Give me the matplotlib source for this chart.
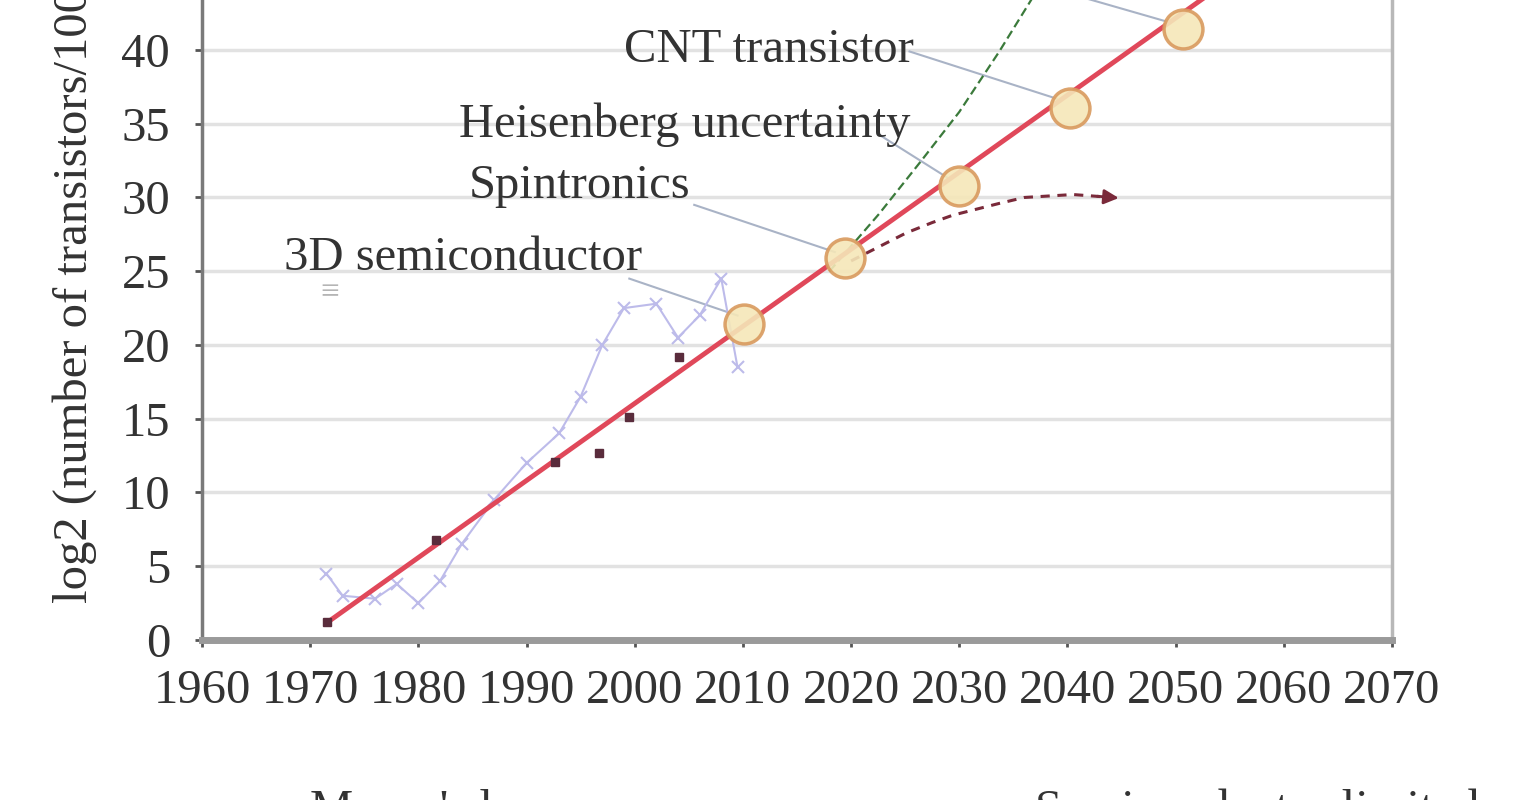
import matplotlib
matplotlib.use("Agg")
import matplotlib.pyplot as plt

plt.rcParams['font.family'] = ['Liberation Serif', 'DejaVu Serif']

# Moore's law trend (log2 of transistor count / 1000)
moore_years = [1971.6, 2056.0]
moore_vals = [1.2, 45.3]

# milestone circles on the trend
milestone_years = [2010.1, 2019.4, 2030.0, 2040.2, 2050.7]
milestone_vals = [21.4, 25.9, 30.8, 36.1, 41.4]

# historic data points (dark markers)
hist_years = [1971.6, 1981.6, 1992.6, 1996.7, 1999.5, 2004.1]
hist_vals = [1.2, 6.8, 12.1, 12.7, 15.1, 19.2]

# light blue series
blue_years = [1971.5, 1973, 1976, 1978, 1980, 1982, 1984, 1987, 1990, 1993,
              1995, 1997, 1999, 2002, 2004, 2006, 2008, 2009.5]
blue_vals = [4.5, 3.0, 2.8, 3.8, 2.5, 4.0, 6.5, 9.5, 12.0, 14.0,
             16.5, 20.0, 22.5, 22.8, 20.5, 22.0, 24.5, 18.5]

# accelerated (green dashed) projection
green_years = [2018.0, 2022.6, 2026.5, 2030.0, 2033.7, 2038.0]
green_vals = [25.0, 28.9, 32.5, 35.8, 39.9, 45.0]

# semiconductor limited (dark red dashed)
limit_years = [2020.0, 2025.1, 2027.5, 2029.4, 2033.7, 2036.0, 2040.5, 2044.2]
limit_vals = [25.7, 27.6, 28.3, 28.8, 29.6, 30.0, 30.2, 30.0]

# annotations: label, text position, leader start, leader end
labels = ["CNT transistor", "Heisenberg uncertainty", "Spintronics", "3D semiconductor"]
label_pos = [(1999.0, 40.0), (1983.8, 34.9), (1984.7, 30.8), (1967.6, 25.9)]
leader_start = [(2025.4, 39.9), (2022.5, 34.3), (2005.5, 29.5), (1999.5, 24.5)]
leader_end = [(2039.0, 36.7), (2029.0, 31.3), (2018.5, 26.3), (2009.5, 22.0)]

FS = 35

fig = plt.figure(figsize=(15.28, 8), dpi=100)
ax = fig.add_axes([0.1322, 0.2, 0.7788, 0.9219])

ax.set_xlim(1960, 2070)
ax.set_ylim(0, 50)
ax.set_xticks(range(1960, 2071, 10))
ax.set_yticks(range(0, 41, 5))
ax.tick_params(labelsize=FS, length=5, width=2, color='#555555')
ax.tick_params(axis='x', pad=16)
ax.tick_params(axis='y', pad=18)
for lbl in ax.get_xticklabels() + ax.get_yticklabels():
    lbl.set_color('#333333')

ax.yaxis.grid(True, color='#e2e2e2', lw=2.5)
ax.set_axisbelow(True)
ax.spines['top'].set_visible(False)
ax.spines['left'].set_color('#7a7a7a')
ax.spines['left'].set_linewidth(2.5)
ax.spines['bottom'].set_color('#9a9a9a')
ax.spines['bottom'].set_linewidth(5)
ax.spines['right'].set_color('#b8b8b8')
ax.spines['right'].set_linewidth(2.5)

# leader lines
for (x0, y0), (x1, y1) in zip(leader_start, leader_end):
    ax.plot([x0, x1], [y0, y1], color='#a9b3c6', lw=1.5, zorder=2)
ax.plot([2036.5, 2049.3], [44.6, 41.9], color='#a9b3c6', lw=1.5, zorder=2)

ax.plot(blue_years, blue_vals, color='#bdbbea', lw=1.5, marker='x', ms=9,
        mew=1.5, zorder=2)
ax.plot(green_years, green_vals, color='#3b7a3b', lw=1.6, ls=(0, (4, 2)), zorder=3)
ax.plot(moore_years, moore_vals, color='#e0485a', lw=3.5, zorder=4)
ax.plot(limit_years, limit_vals, color='#7a2a3a', lw=2.2, ls=(0, (3, 2.5)), zorder=4)
ax.annotate("", xy=(2045.0, 29.95), xytext=(2042.5, 30.1),
            arrowprops=dict(arrowstyle='-|>', color='#7a2a3a', lw=2, mutation_scale=22),
            zorder=4)
ax.plot(hist_years, hist_vals, ls='none', marker='s', ms=6, color='#5a2c3c', zorder=5)
ax.plot(milestone_years, milestone_vals, ls='none', marker='o', ms=28,
        mfc='#f5e7b8', mec='#d99a5e', mew=2.5, alpha=0.9, zorder=5)

for txt, (x, y) in zip(labels, label_pos):
    ax.text(x, y, txt, fontsize=FS, color='#333333', ha='left', va='center',
            zorder=6)
ax.text(1971.8, 23.5, "\u2261", fontsize=24, color='#b5b5b5', ha='center', va='center')

fig.text(75 / 1528, 1 - 275 / 800, "log2 (number of transistors/1000)",
         rotation=90, fontsize=FS, color='#333333', ha='center', va='center')

# legend (cut off at bottom of image)
fig.text(310 / 1528, 1 - 789 / 800, "Moore's law", fontsize=FS, color='#333333',
         ha='left', va='top')
fig.text(1035 / 1528, 1 - 789 / 800, "Semiconductor limited", fontsize=FS,
         color='#333333', ha='left', va='top')

fig.savefig("out.png", dpi=100)
